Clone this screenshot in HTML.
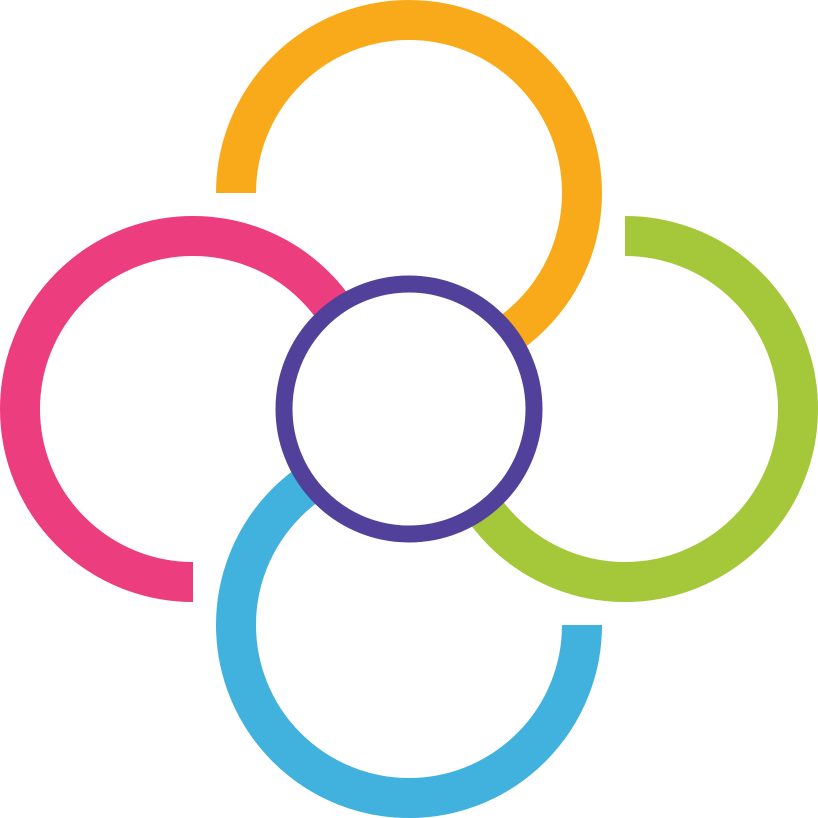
<!DOCTYPE html>
<html><head><meta charset="utf-8"><style>html,body{margin:0;padding:0;background:#fff}svg{display:block}</style></head>
<body>
<svg width="818" height="818" viewBox="0 0 818 818" xmlns="http://www.w3.org/2000/svg">
<g fill="none" stroke-width="40" stroke-linecap="butt">
<path d="M236 193 A173 173 0 1 1 409 366" stroke="#F9AA1A"/>
<path d="M193 582 A173 173 0 1 1 366 409" stroke="#EC3D7E"/>
<path d="M625 236 A173 173 0 1 1 452 409" stroke="#A5C73A"/>
<path d="M582 625 A173 173 0 1 1 409 452" stroke="#41B1DE"/>
</g>
<circle cx="409" cy="409" r="125" fill="#fff" stroke="#52419A" stroke-width="17"/>
</svg>
</body></html>
